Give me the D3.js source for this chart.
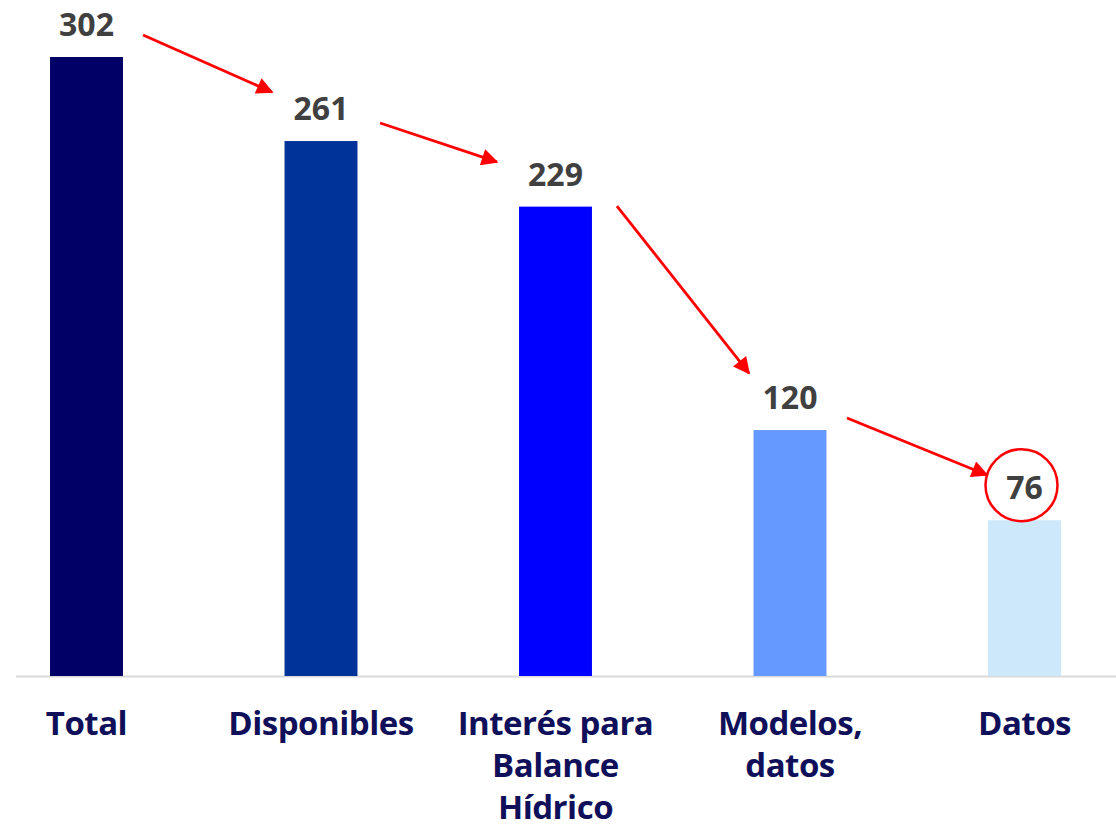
<!DOCTYPE html>
<html><head><meta charset="utf-8">
<script src="https://cdn.jsdelivr.net/npm/d3@7"></script>
<style>html,body{margin:0;padding:0;background:#fff;overflow:hidden}</style>
</head><body>
<svg id="chart" width="1116" height="829"></svg>
<script>
// Data
const categories = ["Total", "Disponibles", "Interés para Balance Hídrico", "Modelos, datos", "Datos"];
const categoryLines = [["Total"], ["Disponibles"], ["Interés para", "Balance", "Hídrico"], ["Modelos,", "datos"], ["Datos"]];
const values = [302, 261, 229, 120, 76];
const barColors = ["#000066", "#003399", "#0000FF", "#6699FF", "#CCE8FA"];
// Annotation arrows in data space: [category index position, value]
const arrowFrom = [[0.241, 312.7], [1.252, 269.8], [2.262, 229.3], [3.243, 125.9]];
const arrowTo   = [[0.791, 284.9], [1.750, 250.8], [2.825, 147.8], [3.840, 98.1]];
const highlightIndex = 4;

const svg = d3.select("#chart");
const W = 1116, H = 829;
const baseY = 676;

const x = d3.scaleBand().domain(categories)
  .range([-30.75, 1141.75]).paddingInner(0.689).paddingOuter(0.3445);
const y = d3.scaleLinear().domain([0, 302]).range([baseY, 57]);
const xi = d3.scaleLinear().domain([0, categories.length - 1])
  .range([x(categories[0]) + x.bandwidth() / 2, x(categories[categories.length - 1]) + x.bandwidth() / 2]);

// baseline
svg.append("line").attr("x1", 16).attr("x2", W).attr("y1", baseY + 0.5).attr("y2", baseY + 0.5)
  .attr("stroke", "#d9d9d9").attr("stroke-width", 2);

// bars
svg.selectAll("rect.bar").data(values).join("rect").attr("class", "bar")
  .attr("x", (d, i) => x(categories[i]))
  .attr("y", d => y(d))
  .attr("width", x.bandwidth())
  .attr("height", d => baseY - y(d))
  .attr("fill", (d, i) => barColors[i]);

// value labels
svg.selectAll("text.val").data(values).join("text").attr("class", "val")
  .attr("x", (d, i) => x(categories[i]) + x.bandwidth() / 2)
  .attr("y", d => y(d) - 21)
  .attr("text-anchor", "middle")
  .attr("font-family", "'Open Sans', sans-serif").attr("font-weight", 700)
  .attr("font-size", 32).attr("fill", "#404040")
  .text(d => d);

// category labels
const cat = svg.selectAll("text.cat").data(categoryLines).join("text").attr("class", "cat")
  .attr("text-anchor", "middle")
  .attr("font-family", "'Open Sans', sans-serif").attr("font-weight", 700)
  .attr("font-size", 33).attr("letter-spacing", -0.5).attr("fill", "#10105a");
cat.each(function(lines, i) {
  const t = d3.select(this);
  lines.forEach((l, j) => {
    t.append("tspan").attr("x", x(categories[i]) + x.bandwidth() / 2)
      .attr("y", 735 + j * 42).text(l);
  });
});

// arrows
const defs = svg.append("defs");
defs.append("marker").attr("id", "ah").attr("viewBox", "0 0 10 10")
  .attr("refX", 9).attr("refY", 5).attr("markerWidth", 6.5).attr("markerHeight", 6)
  .attr("markerUnits", "strokeWidth").attr("orient", "auto")
  .append("path").attr("d", "M0,0 L10,5 L0,10 Z").attr("fill", "#FF0000");

svg.selectAll("line.arrow").data(arrowFrom).join("line").attr("class", "arrow")
  .attr("x1", d => xi(d[0])).attr("y1", d => y(d[1]))
  .attr("x2", (d, i) => xi(arrowTo[i][0])).attr("y2", (d, i) => y(arrowTo[i][1]))
  .attr("stroke", "#FF0000").attr("stroke-width", 2.8)
  .attr("marker-end", "url(#ah)");

// highlight circle around last value
svg.append("circle")
  .attr("cx", x(categories[highlightIndex]) + x.bandwidth() / 2 - 3)
  .attr("cy", y(values[highlightIndex]) - 35)
  .attr("r", 36)
  .attr("fill", "none").attr("stroke", "#FF0000").attr("stroke-width", 2.5);
</script>
</body></html>
